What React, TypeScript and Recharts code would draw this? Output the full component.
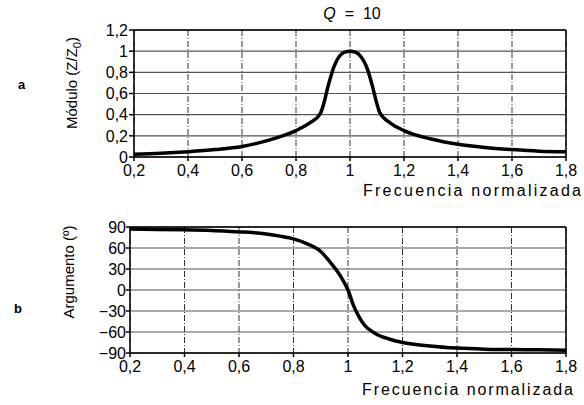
import { LineChart, Line, XAxis, YAxis, CartesianGrid, ReferenceLine } from 'recharts'

// Normalized frequency ticks shared by both panels
const FREQ_TICKS = [0.2, 0.4, 0.6, 0.8, 1, 1.2, 1.4, 1.6, 1.8]
const MOD_TICKS = [0, 0.2, 0.4, 0.6, 0.8, 1, 1.2]
const ARG_TICKS = [-90, -60, -30, 0, 30, 60, 90]

// Panel a: |Z/Z0|
const MOD_FREQ = [0.2, 0.3, 0.4, 0.5, 0.6, 0.7, 0.75, 0.8, 0.85, 0.89, 0.9, 0.92, 0.94, 0.96, 0.98, 1.0, 1.02, 1.04, 1.06, 1.08, 1.1, 1.11, 1.15, 1.2, 1.3, 1.4, 1.5, 1.6, 1.7, 1.8]
const MOD_VALUES = [0.025, 0.035, 0.05, 0.07, 0.1, 0.16, 0.2, 0.25, 0.32, 0.41, 0.48, 0.68, 0.85, 0.95, 0.99, 1.0, 0.99, 0.95, 0.86, 0.7, 0.5, 0.42, 0.32, 0.25, 0.17, 0.12, 0.09, 0.07, 0.055, 0.05]

// Panel b: argument in degrees
const ARG_FREQ = [0.2, 0.3, 0.4, 0.5, 0.6, 0.65, 0.7, 0.75, 0.8, 0.85, 0.9, 0.93, 0.96, 0.98, 1.0, 1.02, 1.04, 1.06, 1.1, 1.15, 1.2, 1.3, 1.4, 1.5, 1.6, 1.7, 1.8]
const ARG_VALUES = [87, 86.5, 86, 85, 83, 82, 80, 77, 73, 66, 55, 42, 27, 15, 0, -22, -38, -50, -62, -70, -75, -80, -83, -84.5, -85, -85.5, -86]

const modData = MOD_FREQ.map((f, i) => ({ f, v: MOD_VALUES[i] }))
const argData = ARG_FREQ.map((f, i) => ({ f, v: ARG_VALUES[i] }))

const FONT = '"Liberation Sans", Arial, sans-serif'
const tickStyle = { fill: '#000', fontSize: 16, fontFamily: FONT }
const fmtComma = (v: number) => String(v).replace('.', ',')
const fmtDeg = (v: number) => (v < 0 ? '\u2212' + Math.abs(v) : String(v))

export default function App() {
  return (
    <div style={{ position: 'absolute', left: 0, top: 0, width: 584, height: 405, background: '#fff', fontFamily: FONT }}>
      <div style={{ position: 'absolute', left: 0, top: 0 }}>
        <LineChart width={584} height={200} data={modData} margin={{ top: 30, right: 18, left: 0, bottom: 13 }}>
          <CartesianGrid vertical={false} stroke="#555" strokeWidth={1.2} />
          <CartesianGrid horizontal={false} stroke="#333" strokeDasharray="6 2 1 2" />
          <XAxis
            dataKey="f"
            type="number"
            domain={[0.2, 1.8]}
            ticks={FREQ_TICKS}
            interval={0}
            tickFormatter={fmtComma}
            tick={tickStyle}
            height={30}
            tickSize={4}
            tickMargin={4}
            stroke="#000"
            strokeWidth={1.5}
          />
          <YAxis
            type="number"
            domain={[0, 1.2]}
            ticks={MOD_TICKS}
            interval={0}
            tickFormatter={fmtComma}
            tick={tickStyle}
            width={134}
            tickSize={5}
            tickMargin={1}
            stroke="#000"
            strokeWidth={1.5}
          />
          <ReferenceLine y={1.2} stroke="#000" strokeWidth={1.5} />
          <ReferenceLine x={1.8} stroke="#000" strokeWidth={1.5} />
          <Line dataKey="v" type="monotone" stroke="#000" strokeWidth={3.5} dot={false} isAnimationActive={false} />
        </LineChart>
      </div>
      <div style={{ position: 'absolute', left: 0, top: 196 }}>
        <LineChart width={584} height={209} data={argData} margin={{ top: 31, right: 18, left: 0, bottom: 22 }}>
          <CartesianGrid vertical={false} stroke="#555" strokeWidth={1.2} />
          <CartesianGrid horizontal={false} stroke="#333" strokeDasharray="6 2 1 2" />
          <XAxis
            dataKey="f"
            type="number"
            domain={[0.2, 1.8]}
            ticks={FREQ_TICKS}
            interval={0}
            tickFormatter={fmtComma}
            tick={tickStyle}
            height={30}
            tickSize={4}
            tickMargin={4}
            stroke="#000"
            strokeWidth={1.5}
          />
          <YAxis
            type="number"
            domain={[-90, 90]}
            ticks={ARG_TICKS}
            interval={0}
            tickFormatter={fmtDeg}
            tick={tickStyle}
            width={130}
            tickSize={4}
            tickMargin={0}
            stroke="#000"
            strokeWidth={1.5}
          />
          <ReferenceLine y={90} stroke="#000" strokeWidth={1.5} />
          <ReferenceLine x={1.8} stroke="#000" strokeWidth={1.5} />
          <Line dataKey="v" type="monotone" stroke="#000" strokeWidth={3.5} dot={false} isAnimationActive={false} />
        </LineChart>
      </div>
      <svg width={584} height={405} style={{ position: 'absolute', left: 0, top: 0, pointerEvents: 'none' }} fontFamily={FONT}>
        <text x={352} y={19} textAnchor="middle" fontSize={16} style={{ whiteSpace: 'pre' }}>
          <tspan fontStyle="italic">Q</tspan>  =  10
        </text>
        <text x={18} y={89} fontSize={13} fontWeight="bold">a</text>
        <text x={14} y={313} fontSize={13} fontWeight="bold">b</text>
        <text x={77} y={83} fontSize={15} textAnchor="middle" transform="rotate(-90, 77, 83)">
          Módulo (Z/Z<tspan fontSize={11} dy={4}>0</tspan><tspan dy={-4}>)</tspan>
        </text>
        <text x={74} y={272} fontSize={15} textAnchor="middle" transform="rotate(-90, 74, 272)">
          Argumento (º)
        </text>
        <text x={581} y={196} fontSize={16} textAnchor="end" textLength={218} lengthAdjust="spacing">
          Frecuencia normalizada
        </text>
        <text x={573} y={395} fontSize={16} textAnchor="end" textLength={211} lengthAdjust="spacing">
          Frecuencia normalizada
        </text>
      </svg>
    </div>
  )
}
